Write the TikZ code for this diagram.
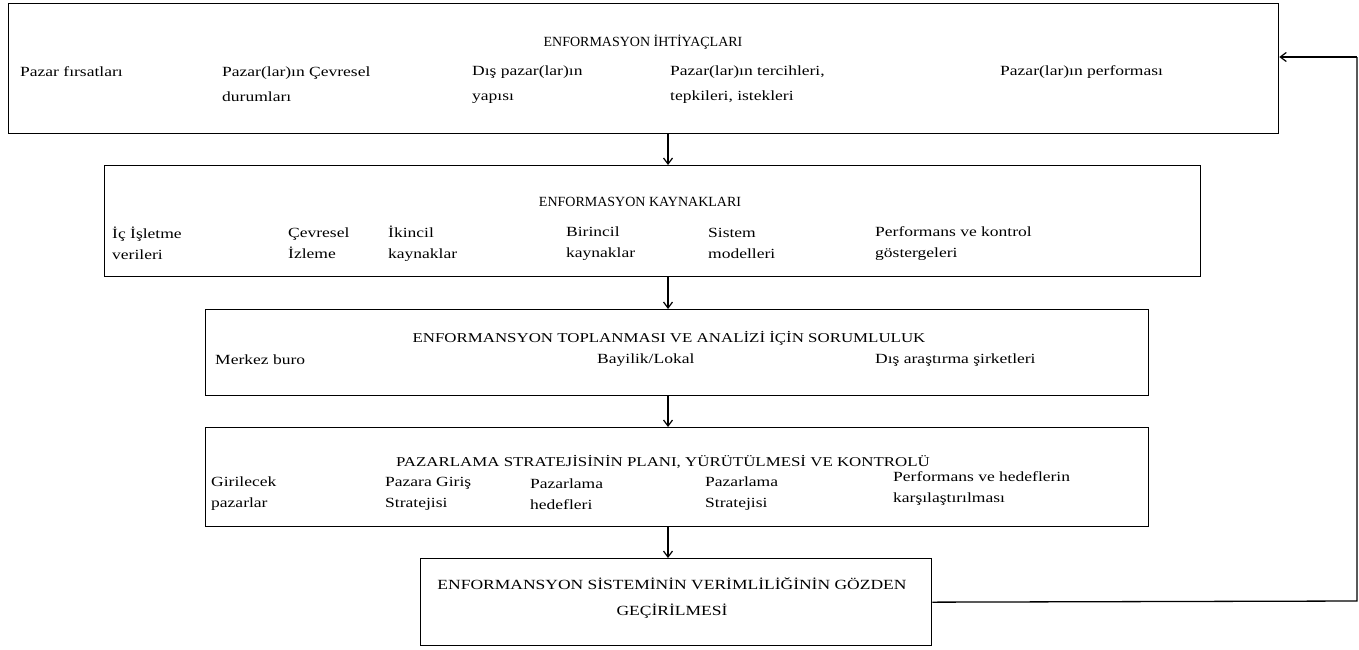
\documentclass[tikz,border=0pt]{standalone}
\usepackage{fontspec}
\setmainfont{Liberation Serif}
\newfontfamily\stf[FakeStretch=1.25]{Liberation Serif}
\usetikzlibrary{arrows.meta}
\begin{document}
\begin{tikzpicture}[x=1pt,y=-1pt,
  box/.style={draw, line width=1.3pt, inner sep=0pt, anchor=north west},
  ttl/.style={font=\fontsize{14}{16}\selectfont, inner sep=0pt},
  wttl/.style={font=\stf\fontsize{13.5}{15}\selectfont, inner sep=0pt},
  itm/.style={font=\stf\fontsize{14}{21}\selectfont, inner sep=0pt, anchor=west, align=left},
  itmb/.style={font=\stf\fontsize{14}{25}\selectfont, inner sep=0pt, anchor=west, align=left},
  flow/.style={line width=1.2pt, -{Straight Barb[length=6pt,width=9pt,line width=1.2pt]}},
  fb/.style={line width=1.3pt}
]
\useasboundingbox (0,0) rectangle (1359,649);

% Box 1
\node[box, minimum width=1270pt, minimum height=130pt] (b1) at (8,3) {};
\node[ttl] (t1) at (643,42) {ENFORMASYON İHTİYAÇLARI};
\node[itmb] (i11) at (20,72) {Pazar fırsatları};
\node[itmb] (i12) at (222,84.5) {Pazar(lar)ın Çevresel\\durumları};
\node[itmb] (i13) at (472,84.5) {Dış pazar(lar)ın\\yapısı};
\node[itmb] (i14) at (670,84.5) {Pazar(lar)ın tercihleri,\\tepkileri, istekleri};
\node[itmb] (i15) at (1000,72) {Pazar(lar)ın performası};

% Box 2
\node[box, minimum width=1096pt, minimum height=111pt] (b2) at (104,165) {};
\node[ttl] (t2) at (640,202) {ENFORMASYON KAYNAKLARI};
\node[itm] (i21) at (112,243.5) {İç İşletme\\verileri};
\node[itm] (i22) at (288,243.5) {Çevresel\\İzleme};
\node[itm] (i23) at (388,243.5) {İkincil\\kaynaklar};
\node[itm] (i24) at (566,243.5) {Birincil\\kaynaklar};
\node[itm] (i25) at (708,243.5) {Sistem\\modelleri};
\node[itm] (i26) at (875,243.5) {Performans ve kontrol\\göstergeleri};

% Box 3
\node[box, minimum width=943pt, minimum height=86pt] (b3) at (205,309) {};
\node[wttl] (t3) at (669,338) {ENFORMANSYON TOPLANMASI VE ANALİZİ İÇİN SORUMLULUK};
\node[itm] (i31) at (215,360) {Merkez buro};
\node[itm] (i32) at (597,360) {Bayilik/Lokal};
\node[itm] (i33) at (875,360) {Dış araştırma şirketleri};

% Box 4
\node[box, minimum width=943pt, minimum height=99pt] (b4) at (205,427) {};
\node[wttl] (t4) at (663,462) {PAZARLAMA STRATEJİSİNİN PLANI, YÜRÜTÜLMESİ VE KONTROLÜ};
\node[itm] (i41) at (211,494) {Girilecek\\pazarlar};
\node[itm] (i42) at (385,494) {Pazara Giriş\\Stratejisi};
\node[itm] (i43) at (530,494) {Pazarlama\\hedefleri};
\node[itm] (i44) at (705,494) {Pazarlama\\Stratejisi};
\node[itm] (i45) at (893,489) {Performans ve hedeflerin\\karşılaştırılması};

% Box 5
\node[box, minimum width=511pt, minimum height=87pt] (b5) at (420,558) {};
\node[inner sep=0pt, align=center, font=\stf\fontsize{14}{26}\selectfont] (t5) at (672,598) {ENFORMANSYON SİSTEMİNİN VERİMLİLİĞİNİN GÖZDEN\\GEÇİRİLMESİ};

% arrows
\draw[flow] (b1.south -| 668,0) -- (b2.north -| 668,0);
\draw[flow] (b2.south -| 668,0) -- (b3.north -| 668,0);
\draw[flow] (b3.south -| 668,0) -- (b4.north -| 668,0);
\draw[flow] (b4.south -| 668,0) -- (b5.north -| 668,0);

% feedback
\coordinate (c1) at (1357,601);
\coordinate (c2) at (1357,57);
\draw[fb] (b5.east) -- (c1) -- (c2);
\draw[flow] (c2) -- (b1.east |- c2);
\end{tikzpicture}
\end{document}
